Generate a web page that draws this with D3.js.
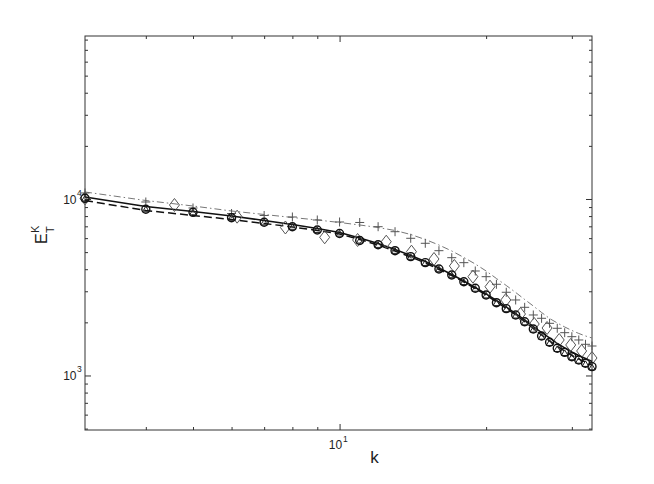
<!DOCTYPE html>
<html>
<head>
<meta charset="utf-8">
<script src="https://cdn.jsdelivr.net/npm/d3@7"></script>
<style>
  body { margin: 0; background: #fff; }
  svg { display: block; font-family: "Liberation Sans", Arial, Helvetica, sans-serif; }
</style>
</head>
<body>
<svg id="chart" width="654" height="484"></svg>
<script>
// ---------------- data ----------------
const kValues = [3,4,5,6,7,8,9,10,11,12,13,14,15,16,17,18,19,20,21,22,23,24,25,26,27,28,29,30,31,32,33];
const kDiamond = [3,4.58,6.16,7.74,9.32,10.89,12.47,14.05,15.63,17.21,18.79,20.37,21.95,23.53,25.11,26.68,28.26,29.84,31.42,33];

const solidLine   = [10264,9069,8495,8011,7553,7170,6806,6460,6012,5596,5175,4786,4425,4066,3735,3431,3151,2896,2660,2444,2245,2063,1895,1752,1631,1518,1432,1359,1298,1248,1200];
const dashedLine  = [9806,8606,8065,7654,7265,6941,6630,6335,5895,5487,5075,4693,4339,3987,3686,3387,3111,2858,2609,2397,2202,2023,1846,1696,1569,1460,1377,1298,1240,1193,1147];
const dashDotLine = [10958,9806,9127,8551,8169,7855,7603,7360,7123,6894,6630,6294,5895,5487,5075,4663,4282,3909,3544,3235,2953,2696,2476,2275,2103,1984,1883,1799,1730,1674,1631];
const circleVals  = [10090,8742,8405,7834,7379,6966,6674,6376,5820,5508,5095,4712,4357,4012,3710,3398,3119,2858,2585,2391,2202,2017,1834,1674,1542,1426,1353,1278,1224,1173,1122];
const triangleVals= [10050,8720,8380,7810,7350,6940,6650,6350,5800,5480,5070,4690,4330,3990,3690,3375,3095,2835,2565,2370,2180,1995,1815,1655,1525,1410,1338,1265,1210,1160,1110];
const plusVals    = [10813,9616,8892,8274,8065,7907,7603,7408,7360,6966,6527,5988,5610,5095,4650,4357,3909,3629,3287,2961,2678,2434,2202,2109,1975,1851,1748,1659,1589,1502,1469];
const diamondVals = [10091,9247,7939,6895,6067,5857,5728,5029,4571,4173,3629,3185,2678,2230,1957,1858,1589,1489,1377,1256];

const xDomain = [3, 33];
const yDomain = [491, 83850];
const xMajorTicks = [10];
const xMinorTicks = [4,5,6,7,8,9,20,30];
const yMajorTicks = [1000, 10000];
const yMinorTicks = [500,600,700,800,900,2000,3000,4000,5000,6000,7000,8000,9000,20000,30000,40000,50000,60000,70000,80000];
const xTickLabels = [{value: 10, base: "10", exp: "1"}];
const yTickLabels = [{value: 1000, base: "10", exp: "3"}, {value: 10000, base: "10", exp: "4"}];
const xLabel = "k";

// ---------------- layout ----------------
const L = 85, R = 592, T = 36, B = 430;
const svg = d3.select("#chart");
const x = d3.scaleLog().domain(xDomain).range([L, R]);
const y = d3.scaleLog().domain(yDomain).range([B, T]);
const axisColor = "#333";

// ticks (inward)
function tickAxis(axisGen, tr, vals, size) {
  const g = svg.append("g").attr("transform", tr)
    .call(axisGen.tickValues(vals).tickSize(size).tickFormat(""));
  g.select(".domain").remove();
  g.selectAll("line").attr("stroke", axisColor).attr("stroke-width", 1);
}
tickAxis(d3.axisBottom(x), `translate(0,${B})`, xMajorTicks, -6);
tickAxis(d3.axisBottom(x), `translate(0,${B})`, xMinorTicks, -3);
tickAxis(d3.axisTop(x), `translate(0,${T})`, xMajorTicks, -6);
tickAxis(d3.axisTop(x), `translate(0,${T})`, xMinorTicks, -3);
tickAxis(d3.axisLeft(y), `translate(${L},0)`, yMajorTicks, -6);
tickAxis(d3.axisLeft(y), `translate(${L},0)`, yMinorTicks, -3);
tickAxis(d3.axisRight(y), `translate(${R},0)`, yMajorTicks, -6);
tickAxis(d3.axisRight(y), `translate(${R},0)`, yMinorTicks, -3);

// box
svg.append("rect").attr("x", L).attr("y", T).attr("width", R - L).attr("height", B - T)
  .attr("fill", "none").attr("stroke", axisColor).attr("stroke-width", 1);

// tick labels
xTickLabels.forEach(t => {
  const px = x(t.value);
  svg.append("text").attr("x", px + 2.5).attr("y", B + 19).attr("text-anchor", "end")
    .attr("font-size", 12).attr("fill", "#222").text(t.base);
  svg.append("text").attr("x", px + 3.5).attr("y", B + 12).attr("text-anchor", "start")
    .attr("font-size", 8.5).attr("fill", "#222").text(t.exp);
});
yTickLabels.forEach(t => {
  const py = y(t.value);
  svg.append("text").attr("x", L - 8.5).attr("y", py + 5).attr("text-anchor", "end")
    .attr("font-size", 12).attr("fill", "#222").text(t.base);
  svg.append("text").attr("x", L - 8).attr("y", py - 3).attr("text-anchor", "start")
    .attr("font-size", 8.5).attr("fill", "#222").text(t.exp);
});

// axis labels
svg.append("text").attr("x", 374.5).attr("y", 463).attr("text-anchor", "middle")
  .attr("font-size", 17).attr("fill", "#222").text(xLabel);
const yl = svg.append("g").attr("transform", "translate(47,244) rotate(-90)");
yl.append("text").attr("x", 0).attr("y", 0).attr("font-size", 16).attr("fill", "#222").text("E");
yl.append("text").attr("x", 11).attr("y", -8).attr("font-size", 11).attr("fill", "#222").text("K");
yl.append("text").attr("x", 11).attr("y", 7).attr("font-size", 11).attr("fill", "#222").text("T");

// lines
const line = d3.line().x(d => x(d[0])).y(d => y(d[1]));
const zip = (ks, vs) => ks.map((k, i) => [k, vs[i]]);
svg.append("path").datum(zip(kValues, dashDotLine)).attr("d", line)
  .attr("fill", "none").attr("stroke", "#777").attr("stroke-width", 1)
  .attr("stroke-dasharray", "7,3,1.5,3");
svg.append("path").datum(zip(kValues, dashedLine)).attr("d", line)
  .attr("fill", "none").attr("stroke", "#111").attr("stroke-width", 1.5)
  .attr("stroke-dasharray", "8,4");
svg.append("path").datum(zip(kValues, solidLine)).attr("d", line)
  .attr("fill", "none").attr("stroke", "#111").attr("stroke-width", 1.5);

// markers
// plus
svg.append("g").selectAll("path").data(zip(kValues, plusVals)).join("path")
  .attr("d", d => { const cx = x(d[0]), cy = y(d[1]), s = 4.5;
    return `M${cx - s},${cy}H${cx + s}M${cx},${cy - s}V${cy + s}`; })
  .attr("stroke", "#555").attr("stroke-width", 1).attr("fill", "none");
// diamonds
svg.append("g").selectAll("path").data(zip(kDiamond, diamondVals)).join("path")
  .attr("d", d => { const cx = x(d[0]), cy = y(d[1]), w = 5, h = 6.5;
    return `M${cx},${cy - h}L${cx + w},${cy}L${cx},${cy + h}L${cx - w},${cy}Z`; })
  .attr("stroke", "#555").attr("stroke-width", 1).attr("fill", "none");
// triangles
svg.append("g").selectAll("path").data(zip(kValues, triangleVals)).join("path")
  .attr("d", d => { const cx = x(d[0]), cy = y(d[1]), s = 3.3;
    return `M${cx},${cy - s}L${cx + s},${cy + s * 0.7}L${cx - s},${cy + s * 0.7}Z`; })
  .attr("stroke", "#222").attr("stroke-width", 1).attr("fill", "none");
// circles
svg.append("g").selectAll("circle").data(zip(kValues, circleVals)).join("circle")
  .attr("cx", d => x(d[0])).attr("cy", d => y(d[1])).attr("r", 4)
  .attr("stroke", "#111").attr("stroke-width", 1.4).attr("fill", "none");
</script>
</body>
</html>
